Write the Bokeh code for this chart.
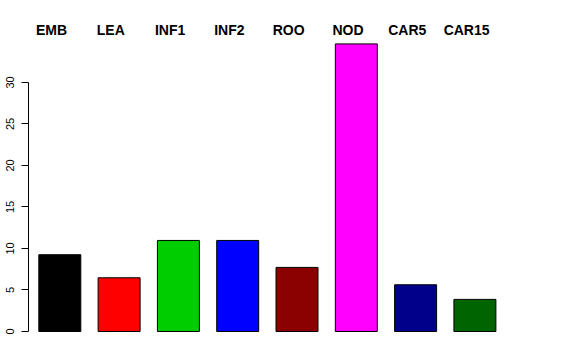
from bokeh.plotting import figure
from bokeh.models import ColumnDataSource, FixedTicker, Range1d, LinearAxis
from bokeh.embed import file_html
from bokeh.resources import INLINE

categories = ["EMB", "LEA", "INF1", "INF2", "ROO", "NOD", "CAR5", "CAR15"]
values = [9.25, 6.47, 10.97, 10.97, 7.72, 34.65, 5.63, 3.87]
colors = ["#000000", "#FF0000", "#00CD00", "#0000FF", "#8B0000", "#FF00FF", "#00008B", "#006400"]
y_ticks = [0, 5, 10, 15, 20, 25, 30]

xs = list(range(len(categories)))
src = ColumnDataSource(dict(x=xs, top=values, color=colors))

x0, x1 = -0.528, 8.241
label_shift = 0.14  # category labels sit slightly left of bar centres

p = figure(width=576, height=360, output_backend="svg", toolbar_location=None,
           x_range=Range1d(x0, x1), y_range=Range1d(-1.446, 35.30),
           x_axis_location=None, y_axis_location="left",
           min_border_left=28, min_border_right=28, min_border_top=38, min_border_bottom=17)

p.vbar(x="x", top="top", bottom=0, width=0.708, source=src,
       fill_color="color", line_color="black", line_width=1)

p.outline_line_color = None
p.xgrid.visible = False
p.ygrid.visible = False
p.background_fill_color = "white"
p.border_fill_color = "white"

p.extra_x_ranges["lab"] = Range1d(x0 + label_shift, x1 + label_shift)
xa = LinearAxis(x_range_name="lab")
xa.ticker = FixedTicker(ticks=xs)
xa.major_label_overrides = {i: c for i, c in enumerate(categories)}
xa.axis_line_color = None
xa.major_tick_line_color = None
xa.minor_tick_line_color = None
xa.major_tick_out = 0
xa.major_label_standoff = 1
xa.major_label_text_font = "Liberation Sans"
xa.major_label_text_font_style = "bold"
xa.major_label_text_font_size = "14px"
xa.major_label_text_color = "black"
p.add_layout(xa, "above")

ya = p.yaxis[0]
ya.ticker = FixedTicker(ticks=y_ticks)
ya.bounds = (0, 30)
ya.axis_line_color = "black"
ya.major_tick_line_color = "black"
ya.major_tick_out = 7
ya.major_tick_in = 0
ya.minor_tick_line_color = None
ya.major_label_orientation = "vertical"
ya.major_label_standoff = 7
ya.major_label_text_font = "Liberation Sans"
ya.major_label_text_font_size = "11px"
ya.major_label_text_color = "black"

open("out.html", "w").write(file_html(p, INLINE))
